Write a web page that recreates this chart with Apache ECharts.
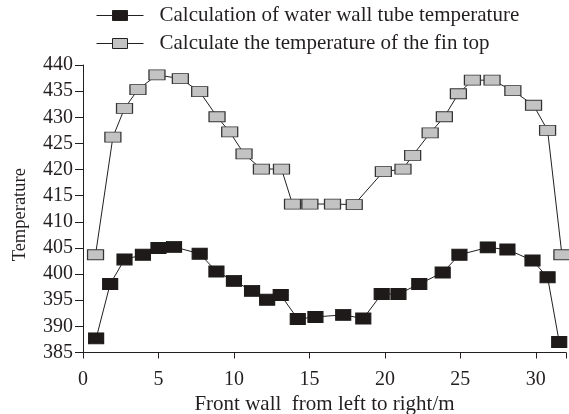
<!DOCTYPE html>
<html>
<head>
<meta charset="utf-8">
<script src="https://cdn.jsdelivr.net/npm/echarts@6/dist/echarts.min.js"></script>
<style>
  html, body { margin: 0; padding: 0; background: #fff; }
  #chart { width: 569px; height: 414px; }
</style>
</head>
<body>
<div id="chart"></div>
<script>
// Water wall tube temperature along the front wall
const tubeX = [0.87, 1.8, 2.75, 3.97, 5.0, 6.03, 7.73, 8.84, 10.0, 11.2, 12.2, 13.1, 14.23, 15.4,
               17.24, 18.57, 19.79, 20.9, 22.28, 23.83, 24.94, 26.82, 28.12, 29.78, 30.78, 31.55];
const tubeT = [387.7, 398.1, 402.8, 403.7, 405.0, 405.2, 403.9, 400.5, 398.7, 396.8, 395.1, 396.0, 391.4, 391.8,
               392.2, 391.5, 396.2, 396.2, 398.1, 400.3, 403.7, 405.1, 404.7, 402.6, 399.4, 387.0];

// Fin top temperature along the front wall
const finX = [0.83, 1.98, 2.75, 3.64, 4.9, 6.45, 7.73, 8.88, 9.72, 10.67, 11.82, 13.15, 13.88, 15.03,
              16.53, 17.97, 19.9, 21.2, 21.84, 23.0, 23.94, 24.87, 25.8, 27.1, 28.48, 29.85, 30.78, 31.73];
const finT = [403.7, 426.2, 431.7, 435.3, 438.1, 437.4, 434.9, 430.1, 427.2, 423.0, 420.1, 420.1, 413.4, 413.4,
              413.4, 413.3, 419.6, 420.1, 422.7, 427.0, 430.1, 434.5, 437.1, 437.1, 435.1, 432.3, 427.5, 403.7];

const xTicks = [0, 5, 10, 15, 20, 25, 30];
const yTicks = [385, 390, 395, 400, 405, 410, 415, 420, 425, 430, 435, 440];

const tubeName = 'Calculation of water wall tube temperature';
const finName = 'Calculate the temperature of the fin top';

const serif = '"Liberation Serif", "Times New Roman", serif';
const ink = '#231f20';
const tubeFill = '#1e1a1a';
const finFill = '#c3c3c3';
const pair = (xs, ys) => xs.map((x, i) => [x, ys[i]]);

// legend key: a short line with a wide rectangular marker in the middle
const keyIcon = 'path://M0 5.5L16 5.5M31 5.5L47 5.5M16 0.5H31V10.5H16Z';

const chart = echarts.init(document.getElementById('chart'), null, { renderer: 'canvas' });
chart.setOption({
  animation: false,
  backgroundColor: '#fff',
  textStyle: { fontFamily: serif },
  legend: {
    orient: 'vertical',
    left: 96,
    top: 5,
    padding: 0,
    itemWidth: 47,
    itemHeight: 11,
    itemGap: 7,
    textStyle: { fontFamily: serif, fontSize: 21, color: ink, padding: [0, 0, 0, 11] },
    data: [
      { name: tubeName, icon: keyIcon, itemStyle: { color: tubeFill, borderColor: ink, borderWidth: 1 } },
      { name: finName, icon: keyIcon, itemStyle: { color: finFill, borderColor: ink, borderWidth: 1 } }
    ]
  },
  grid: {
    left: 83, right: 3, top: 65, bottom: 61.5,
    containLabel: false,
    outerBoundsMode: 'none'
  },
  xAxis: {
    type: 'value',
    min: 0,
    max: 32,
    interval: 5,
    name: 'Front wall  from left to right/m',
    nameLocation: 'middle',
    nameGap: 40,
    nameTextStyle: { fontFamily: serif, fontSize: 21, color: ink },
    axisLine: { show: true, lineStyle: { color: ink, width: 1 } },
    axisTick: { show: true, length: 6, lineStyle: { color: ink } },
    axisLabel: {
      fontFamily: serif, fontSize: 20, color: ink, margin: 17,
      formatter: v => (xTicks.includes(v) ? String(v) : '')
    },
    splitLine: { show: false }
  },
  yAxis: {
    type: 'value',
    min: 385,
    max: 440,
    interval: 5,
    name: 'Temperature',
    nameLocation: 'middle',
    nameGap: 53,
    nameTextStyle: { fontFamily: serif, fontSize: 18.5, color: ink, padding: [0, 12, 0, 0] },
    axisLine: { show: true, lineStyle: { color: ink, width: 1 } },
    axisTick: { show: true, length: 8, lineStyle: { color: ink } },
    axisLabel: {
      fontFamily: serif, fontSize: 20, color: ink, margin: 10,
      formatter: v => (yTicks.includes(v) ? String(v) : '')
    },
    splitLine: { show: false }
  },
  series: [
    {
      name: tubeName,
      type: 'line',
      data: pair(tubeX, tubeT),
      symbol: 'rect',
      symbolSize: [15, 11],
      itemStyle: { color: tubeFill, borderColor: tubeFill, borderWidth: 1 },
      lineStyle: { color: ink, width: 1 },
      z: 3
    },
    {
      name: finName,
      type: 'line',
      data: pair(finX, finT),
      symbol: 'rect',
      symbolSize: [16, 10],
      itemStyle: { color: finFill, borderColor: '#333', borderWidth: 1 },
      lineStyle: { color: ink, width: 1 },
      z: 2
    }
  ]
});
</script>
</body>
</html>
